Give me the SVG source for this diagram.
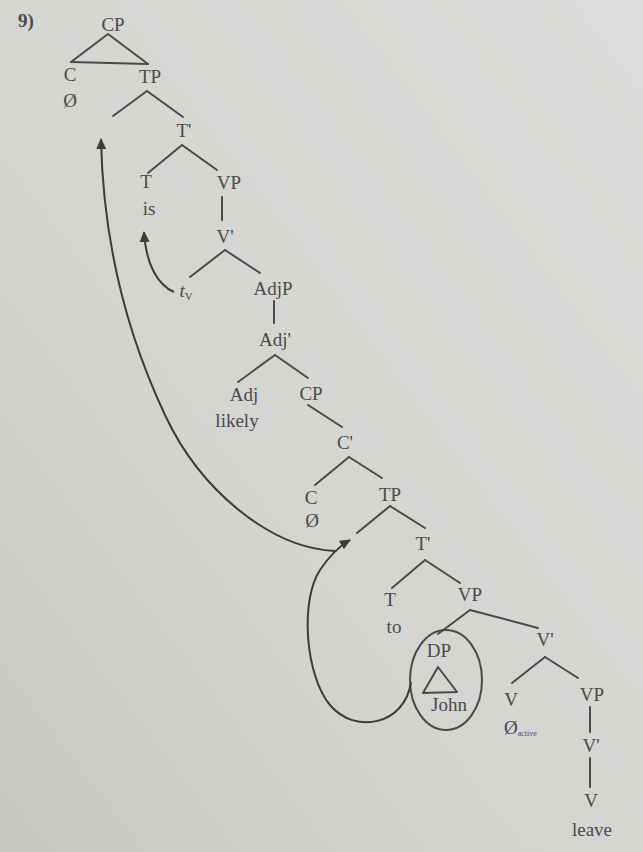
<svg xmlns="http://www.w3.org/2000/svg" width="643" height="852" viewBox="0 0 643 852">
<defs>
<linearGradient id="bg" x1="1" y1="0" x2="0" y2="1">
<stop offset="0" stop-color="#dcdcda"/>
<stop offset="0.6" stop-color="#d4d4d1"/>
<stop offset="1" stop-color="#c7c7c4"/>
</linearGradient>
<marker id="ah" markerUnits="userSpaceOnUse" markerWidth="12" markerHeight="12" refX="10" refY="5" orient="auto" viewBox="0 0 12 10">
<path d="M0,0 L11,5 L0,10 Z" fill="#3c3c3c"/>
</marker>
<style>
text{font-family:"Liberation Serif","DejaVu Serif",serif;font-size:19px;fill:#4a4a4a;text-anchor:middle}
.ln line,.ln polyline{stroke:#4a4a4a;stroke-width:2;fill:none;stroke-linecap:round;stroke-linejoin:round}
.shape{stroke:#4a4a4a;stroke-width:2;fill:none;stroke-linejoin:round}
.mv path{stroke:#3c3c3c;stroke-width:2;fill:none}
.sub{font-size:11px}
.tiny{font-size:8px}
</style>
</defs>
<rect width="643" height="852" fill="url(#bg)"/>
<text x="18" y="27" style="text-anchor:start;font-weight:bold">9)</text>

<g id="nodes">
<g id="cp1"><text x="113" y="31">CP</text></g>
<g id="c1"><text x="70" y="81">C</text><text x="70" y="107">Ø</text></g>
<g id="tp1"><text x="150" y="83">TP</text></g>
<g id="tbar1"><text x="184" y="137">T'</text></g>
<g id="t1"><text x="146" y="188">T</text><text x="149" y="215">is</text></g>
<g id="vp1"><text x="229" y="189">VP</text></g>
<g id="vbar1"><text x="225" y="243">V'</text></g>
<g id="tv"><text x="186" y="297"><tspan font-style="italic">t</tspan><tspan class="sub" dy="3">V</tspan></text></g>
<g id="adjp"><text x="273" y="295">AdjP</text></g>
<g id="adjbar"><text x="275" y="346">Adj'</text></g>
<g id="adj"><text x="244" y="401">Adj</text><text x="237" y="427">likely</text></g>
<g id="cp2"><text x="311" y="400">CP</text></g>
<g id="cbar2"><text x="345" y="449">C'</text></g>
<g id="c2"><text x="311" y="504">C</text><text x="312" y="527">Ø</text></g>
<g id="tp2"><text x="390" y="501">TP</text></g>
<g id="tbar2"><text x="423" y="550">T'</text></g>
<g id="t2"><text x="390" y="606">T</text><text x="394" y="633">to</text></g>
<g id="vp2"><text x="470" y="601">VP</text></g>
<g id="dp"><text x="439" y="657">DP</text><polygon class="shape" points="438,667 423,693 457,692"/><text x="449" y="711">John</text><ellipse class="shape" cx="446" cy="680" rx="36" ry="50"/></g>
<g id="vbar2"><text x="545" y="646">V'</text></g>
<g id="v2"><text x="511" y="706">V</text><text x="504" y="734" style="text-anchor:start">Ø<tspan class="tiny" dy="2">active</tspan></text></g>
<g id="vp3"><text x="592" y="701">VP</text></g>
<g id="vbar3"><text x="591" y="752">V'</text></g>
<g id="v3"><text x="591" y="807">V</text><text x="592" y="836">leave</text></g>
</g>

<g id="connectors" class="ln">
<polyline points="71,62 108,34 148,64"/>
<line x1="71" y1="62" x2="148" y2="64"/>
<line x1="147" y1="91" x2="113" y2="116"/><line x1="147" y1="91" x2="183" y2="117"/>
<line x1="182" y1="145" x2="148" y2="173"/><line x1="182" y1="145" x2="217" y2="170"/>
<line x1="222" y1="197" x2="222" y2="220"/>
<line x1="225" y1="250" x2="190" y2="277"/><line x1="225" y1="250" x2="260" y2="273"/>
<line x1="274" y1="301" x2="274" y2="323"/>
<line x1="275" y1="355" x2="238" y2="382"/><line x1="275" y1="355" x2="308" y2="378"/>
<line x1="308" y1="405" x2="342" y2="427"/>
<line x1="349" y1="457" x2="315" y2="485"/><line x1="349" y1="457" x2="382" y2="478"/>
<line x1="390" y1="506" x2="357" y2="533"/><line x1="390" y1="506" x2="425" y2="528"/>
<line x1="425" y1="560" x2="392" y2="588"/><line x1="425" y1="560" x2="460" y2="583"/>
<line x1="470" y1="610" x2="438" y2="634"/><line x1="470" y1="610" x2="538" y2="628"/>
<line x1="545" y1="657" x2="512" y2="683"/><line x1="545" y1="657" x2="578" y2="678"/>
<line x1="590" y1="707" x2="590" y2="732"/>
<line x1="590" y1="758" x2="590" y2="787"/>
</g>

<g id="movement" class="mv">
<path d="M174 292 C158 285 146 265 144 232" marker-end="url(#ah)"/>
<path d="M335 551 C270 548 200 490 165 415 C125 330 103 240 101 139" marker-end="url(#ah)"/>
<path d="M411 682 C405 725 355 735 330 705 C305 675 300 600 320 570 C328 558 338 547 350 540" marker-end="url(#ah)"/>
</g>
</svg>
